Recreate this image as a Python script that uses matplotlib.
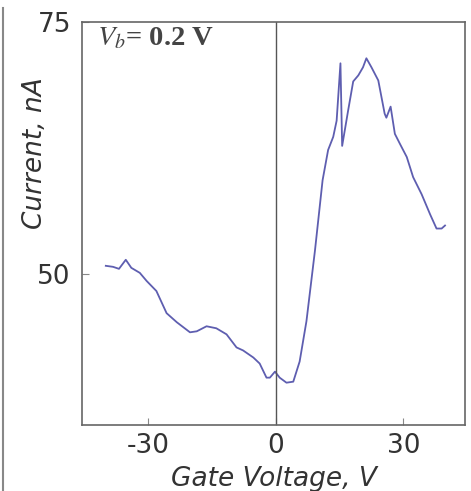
import matplotlib.pyplot as plt
from matplotlib.lines import Line2D

# gate voltage (V) and current (nA)
gate_v = [-40, -38.3, -36.9, -35.3, -34, -32, -30.4, -28.1, -25.7, -23.3,
          -20.2, -18.6, -16.3, -14, -11.6, -9.25, -7.7, -5.3, -3.8, -2.2,
          -1.4, -0.2, 0.9, 2.5, 4.1, 5.6, 7.2, 9.2, 11, 12.3,
          13.5, 14.3, 15.2, 15.6, 17, 18.2, 19.4, 20.5, 21.3, 22.5,
          24.1, 25.6, 26, 27, 28, 29.2, 30.8, 32.3, 34.3, 36.3,
          37.8, 39, 39.8]
current = [50.8, 50.7, 50.5, 51.4, 50.6, 50.1, 49.3, 48.3, 46.1, 45.2,
           44.2, 44.3, 44.8, 44.6, 44.0, 42.7, 42.4, 41.7, 41.1, 39.7,
           39.7, 40.3, 39.7, 39.2, 39.3, 41.3, 45.3, 52.3, 59.3, 62.3,
           63.6, 65.2, 70.9, 62.7, 66.2, 69.1, 69.7, 70.5, 71.4, 70.5,
           69.2, 65.9, 65.5, 66.6, 63.9, 62.9, 61.6, 59.6, 57.9, 55.9,
           54.5, 54.5, 54.8]
x_ticks = [-30, 0, 30]
y_ticks = [50, 75]

plt.rcParams['font.family'] = ['DejaVu Sans']
plt.rcParams['axes.unicode_minus'] = False

fig = plt.figure(figsize=(4.71, 4.91), dpi=100)
ax = fig.add_axes([82 / 471, 1 - 425 / 491, (465 - 82) / 471, (425 - 22) / 491])

ax.plot(gate_v, current, color='#5e5eb0', lw=1.3)
ax.axvline(0, color='#555555', lw=1.0)

ax.set_xlim(-45.6, 44.5)
ax.set_ylim(35, 75)
ax.set_xticks(x_ticks)
ax.set_yticks(y_ticks)
ax.tick_params(direction='in', length=5, width=0.8, color='#888888',
               labelsize=19, labelcolor='#333333')
ax.tick_params(axis='x', pad=6)
ax.tick_params(axis='y', pad=8)
for s in ax.spines.values():
    s.set_color('#666666')
    s.set_linewidth(1.2)

ax.set_xlabel('Gate Voltage, V', fontsize=19, style='italic', color='#333333', labelpad=5)
ax.set_ylabel('Current, nA', fontsize=19, style='italic', color='#333333')
ax.yaxis.set_label_coords(-0.09, 0.675)

ax.text(0.04, 0.99, r'$V_b$= 0.2 V', transform=ax.transAxes, ha='left', va='top',
        fontsize=20.5, family='Liberation Serif', fontweight='bold', color='#444444',
        math_fontfamily='stix')

# cropping border at the left edge of the original image
fig.add_artist(Line2D([2.5 / 471, 2.5 / 471], [0, 1 - 8 / 491], transform=fig.transFigure,
                      color='#888888', lw=1.5))

fig.savefig('out.png', dpi=100)
